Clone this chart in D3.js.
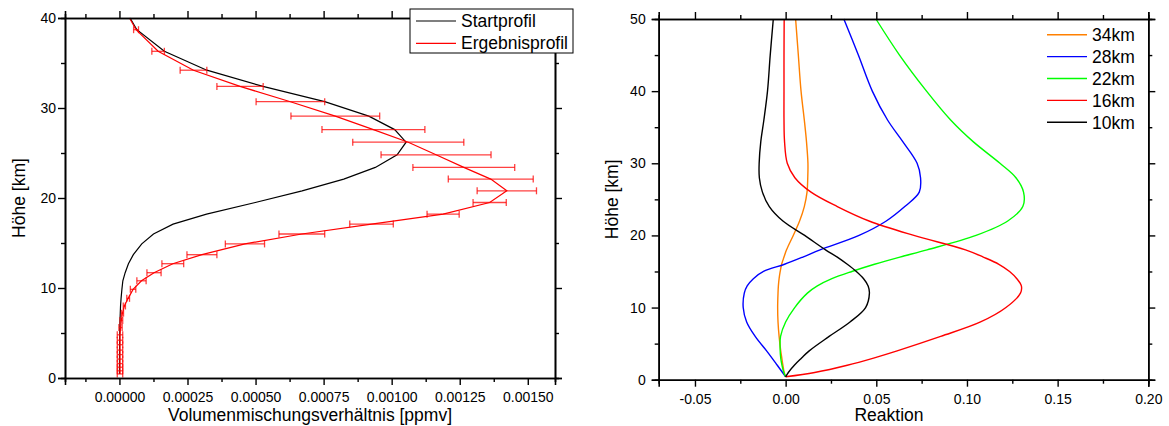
<!DOCTYPE html>
<html><head><meta charset="utf-8">
<script src="https://cdn.jsdelivr.net/npm/d3@7"></script>
<style>
html,body{margin:0;padding:0;background:#fff;}
svg{display:block;font-family:"Liberation Sans",Arial,sans-serif;}
</style></head>
<body>
<svg id="chart" width="1169" height="426"></svg>
<script>
// ---------- Left panel data ----------
const profileAltitudes = [40, 38.7, 36.3, 34.2, 32.4, 30.7, 29.1, 27.6, 26.2, 24.8, 23.4, 22.1, 20.8, 19.5, 18.2, 17.1, 16.0, 14.9, 13.7, 12.7, 11.7, 10.8, 9.85, 8.85, 8.0, 7.2, 6.4, 5.6, 4.8, 4.2, 3.7, 3.1, 2.6, 2.1, 1.6, 1.2, 0.8, 0.45];
const startProfile = [0.000039, 0.000064, 0.000165, 0.000321, 0.000527, 0.000754, 0.000916, 0.001011, 0.001053, 0.001020, 0.000940, 0.000824, 0.000671, 0.000499, 0.000320, 0.000197, 0.000125, 0.000082, 0.000051, 0.000033, 0.000021, 0.0000125, 0.000009, 0.000006, 0.000004, 0.000003, 0.000002, 0.0000015, 0.000001, 0.0000008, 0.0000006, 0.0000005, 0.0000004, 0.0000003, 0.0000003, 0.0000002, 0.0000002, 0.0000002];
const resultProfile = [0.000037, 0.000061, 0.000142, 0.000272, 0.000443, 0.000628, 0.000793, 0.000933, 0.001061, 0.001163, 0.001265, 0.001364, 0.001423, 0.001360, 0.001189, 0.000926, 0.000670, 0.000461, 0.000303, 0.000196, 0.000127, 0.000081, 0.000050, 0.000032, 0.000018, 0.000011, 0.000007, 0.000004, 0.000002, 0.000002, 0.000002, 0.000002, 0.000002, 0.000002, 0.000002, 0.000002, 0.000002, 0.000002];
const resultError = [0, 0.000009, 0.000023, 0.000049, 0.000085, 0.000126, 0.000163, 0.000189, 0.000204, 0.000202, 0.000187, 0.000156, 0.000109, 0.000061, 0.000059, 0.000080, 0.000084, 0.000072, 0.000055, 0.000040, 0.000026, 0.000017, 0.000010, 0.000005, 0.000004, 0.000004, 0.000005, 0.000006, 0.000010, 0.000010, 0.000010, 0.000010, 0.000010, 0.000010, 0.000010, 0.000010, 0.000010, 0.000010];
const leftXTicks = [0, 0.00025, 0.0005, 0.00075, 0.001, 0.00125, 0.0015];
const leftXTickLabels = ["0.00000", "0.00025", "0.00050", "0.00075", "0.00100", "0.00125", "0.00150"];
const leftXMinor = [-0.000125, 0.000125, 0.000375, 0.000625, 0.000875, 0.001125, 0.001375];
const leftYTicks = [0, 10, 20, 30, 40];
const leftYMinor = [5, 15, 25, 35];
const leftLegend = ["Startprofil", "Ergebnisprofil"];

// ---------- Right panel data ----------
const responseAltitudes = [0.4, 1, 2, 3, 4, 6, 8, 10, 12, 13, 14, 15, 16, 17, 18, 20, 22, 24, 26, 28, 30, 33, 36, 40, 45, 50];
const resp34 = [0, -0.0008, -0.0015, -0.0021, -0.0027, -0.0036, -0.0042, -0.0044, -0.0042, -0.0040, -0.0036, -0.0030, -0.0022, -0.0009, 0.0005, 0.0042, 0.0077, 0.0103, 0.0118, 0.0122, 0.0123, 0.0115, 0.0103, 0.0085, 0.0070, 0.0055];
const resp28 = [0, -0.0017, -0.0046, -0.0075, -0.0105, -0.0168, -0.0215, -0.0234, -0.0228, -0.0212, -0.0178, -0.0122, -0.0006, 0.0095, 0.0190, 0.0405, 0.0555, 0.0657, 0.0737, 0.0744, 0.0725, 0.0646, 0.0562, 0.0478, 0.0401, 0.0321];
const resp22 = [0, -0.0010, -0.0020, -0.0027, -0.0030, -0.0028, 0.0000, 0.0050, 0.0120, 0.0175, 0.0255, 0.0365, 0.0490, 0.0630, 0.0780, 0.1050, 0.1225, 0.1308, 0.1312, 0.1270, 0.1182, 0.1034, 0.0910, 0.0777, 0.0628, 0.0498];
const resp16 = [0, 0.0160, 0.0340, 0.0485, 0.0615, 0.0855, 0.1075, 0.1215, 0.1295, 0.1300, 0.1275, 0.1235, 0.1176, 0.1090, 0.0992, 0.0707, 0.0460, 0.0285, 0.0140, 0.0051, 0.0009, -0.0006, -0.0009, -0.0009, -0.0009, -0.0008];
const resp10 = [0, 0.0015, 0.0048, 0.0088, 0.0130, 0.0240, 0.0355, 0.0441, 0.0462, 0.0455, 0.0430, 0.0390, 0.0340, 0.0285, 0.0220, 0.0105, -0.0015, -0.0090, -0.0128, -0.0145, -0.0146, -0.0137, -0.0120, -0.0100, -0.0085, -0.0068];
const responseNames = ["34km", "28km", "22km", "16km", "10km"];
const responseColors = ["#ff8000", "#0000ff", "#00ff00", "#ff0000", "#000000"];
const rightXTicks = [-0.05, 0, 0.05, 0.10, 0.15, 0.20];
const rightXTickLabels = ["-0.05", "0.00", "0.05", "0.10", "0.15", "0.20"];
const rightXMinor = [-0.025, 0.025, 0.075, 0.125, 0.175];
const rightYTicks = [0, 10, 20, 30, 40, 50];
const rightYMinor = [5, 15, 25, 35, 45];

const svg = d3.select("#chart");
const FONT_TICK = 14, FONT_TITLE = 17.5;

function drawFrame(g, x, y, o) {
  const [x0, x1] = x.range(), [y1, y0] = y.range();
  const styleAxis = sel => {
    sel.select(".domain").attr("stroke", "#000").attr("stroke-width", 1.6);
    sel.selectAll(".tick line").attr("stroke", "#000").attr("stroke-width", 1.4);
    sel.selectAll("text").attr("font-size", FONT_TICK).attr("fill", "#000")
      .attr("font-family", '"Liberation Sans",Arial,sans-serif');
  };
  g.append("g").attr("transform", `translate(0,${y1})`)
    .call(d3.axisBottom(x).tickValues(o.xTicks).tickSize(7).tickPadding(o.xPad)
      .tickFormat((d, i) => o.xLabels[i])).call(styleAxis);
  g.append("g").attr("transform", `translate(0,${y1})`)
    .call(d3.axisBottom(x).tickValues(o.xMinor).tickSize(4).tickFormat("")).call(styleAxis);
  g.append("g").attr("transform", `translate(0,${y0})`)
    .call(d3.axisTop(x).tickValues(o.xTicks).tickSize(7).tickFormat("")).call(styleAxis);
  g.append("g").attr("transform", `translate(0,${y0})`)
    .call(d3.axisTop(x).tickValues(o.xMinor).tickSize(4).tickFormat("")).call(styleAxis);
  g.append("g").attr("transform", `translate(${x0},0)`)
    .call(d3.axisLeft(y).tickValues(o.yTicks).tickSize(7).tickPadding(o.yPad)
      .tickFormat(d3.format("d"))).call(styleAxis);
  g.append("g").attr("transform", `translate(${x0},0)`)
    .call(d3.axisLeft(y).tickValues(o.yMinor).tickSize(4).tickFormat("")).call(styleAxis);
  g.append("g").attr("transform", `translate(${x1},0)`)
    .call(d3.axisRight(y).tickValues(o.yTicks).tickSize(7).tickFormat("")).call(styleAxis);
  g.append("g").attr("transform", `translate(${x1},0)`)
    .call(d3.axisRight(y).tickValues(o.yMinor).tickSize(4).tickFormat("")).call(styleAxis);
  g.append("text").attr("x", o.xTitleX).attr("y", 421).attr("text-anchor", "middle")
    .attr("font-size", FONT_TITLE).text(o.xTitle);
  g.append("text").attr("transform", `translate(${o.yTitleX},${(y0 + y1) / 2}) rotate(-90)`)
    .attr("text-anchor", "middle").attr("font-size", FONT_TITLE).text("Höhe [km]");
}

// ---------- Left panel ----------
{
  const x = d3.scaleLinear().domain([-0.0002, 0.0016]).range([65, 555]);
  const y = d3.scaleLinear().domain([0, 40]).range([378, 18]);
  const g = svg.append("g");
  const rows = profileAltitudes.map((a, i) => ({a, s: startProfile[i], r: resultProfile[i], e: resultError[i]}));

  g.append("path").datum(rows).attr("fill", "none").attr("stroke", "#000").attr("stroke-width", 1.2)
    .attr("d", d3.line().y(d => y(d.a)).x(d => x(d.s)));
  const eb = g.append("g").attr("stroke", "#ff0000").attr("stroke-width", 1.3).attr("stroke-opacity", 0.75);
  rows.filter(d => d.e > 0).forEach(d => {
    const yy = y(d.a), xl = x(d.r - d.e), xr = x(d.r + d.e);
    eb.append("line").attr("x1", xl).attr("x2", xr).attr("y1", yy).attr("y2", yy);
    eb.append("line").attr("x1", xl).attr("x2", xl).attr("y1", yy - 3.5).attr("y2", yy + 3.5);
    eb.append("line").attr("x1", xr).attr("x2", xr).attr("y1", yy - 3.5).attr("y2", yy + 3.5);
  });
  g.append("path").datum(rows).attr("fill", "none").attr("stroke", "#ff0000").attr("stroke-width", 1.2)
    .attr("d", d3.line().y(d => y(d.a)).x(d => x(d.r)));

  drawFrame(g, x, y, {xTicks: leftXTicks, xLabels: leftXTickLabels, xMinor: leftXMinor,
    yTicks: leftYTicks, yMinor: leftYMinor, xPad: 7, yPad: 2,
    xTitle: "Volumenmischungsverhältnis [ppmv]", xTitleX: 310, yTitleX: 24.5});

  const lg = g.append("g");
  lg.append("rect").attr("x", 410).attr("y", 9).attr("width", 163).attr("height", 44)
    .attr("fill", "#fff").attr("stroke", "#000").attr("stroke-width", 1);
  leftLegend.forEach((t, i) => {
    const ly = 21 + i * 22.3;
    lg.append("line").attr("x1", 416).attr("x2", 456).attr("y1", ly).attr("y2", ly)
      .attr("stroke", i === 0 ? "#000" : "#ff0000").attr("stroke-width", 1.2);
    lg.append("text").attr("x", 461).attr("y", ly + 6).attr("font-size", FONT_TITLE).text(t);
  });
}

// ---------- Right panel ----------
{
  const x = d3.scaleLinear().domain([-0.07, 0.20]).range([658.7, 1148.3]);
  const y = d3.scaleLinear().domain([0, 50]).range([379.7, 19]);
  const g = svg.append("g");
  const series = [resp34, resp28, resp22, resp16, resp10];
  const line = d3.line().curve(d3.curveCatmullRom.alpha(0.5))
    .x(d => x(d[1])).y(d => y(d[0]));
  series.forEach((vals, k) => {
    const pts = responseAltitudes.map((a, i) => [a, vals[i]]);
    g.append("path").datum(pts).attr("fill", "none").attr("stroke", responseColors[k])
      .attr("stroke-width", 1.4).attr("d", line);
  });

  drawFrame(g, x, y, {xTicks: rightXTicks, xLabels: rightXTickLabels, xMinor: rightXMinor,
    yTicks: rightYTicks, yMinor: rightYMinor, xPad: 7.5, yPad: 6,
    xTitle: "Reaktion", xTitleX: 889, yTitleX: 618.3});

  responseNames.forEach((t, i) => {
    const ly = 34.7 + i * 21.9;
    g.append("line").attr("x1", 1047).attr("x2", 1087).attr("y1", ly).attr("y2", ly)
      .attr("stroke", responseColors[i]).attr("stroke-width", 1.4);
    g.append("text").attr("x", 1092).attr("y", ly + 6.3).attr("font-size", FONT_TITLE).text(t);
  });
}
</script>
</body></html>
